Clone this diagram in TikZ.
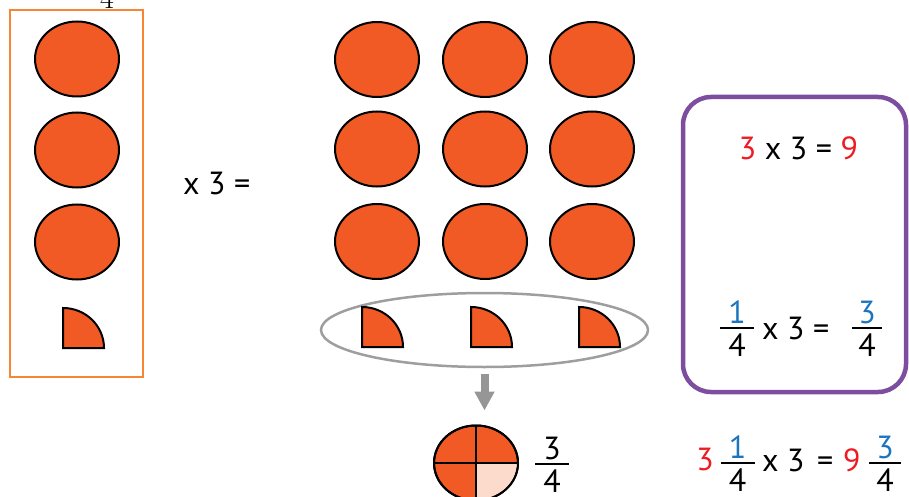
\documentclass[tikz,border=0pt]{standalone}
\usepackage{fontspec}
\newfontfamily\eqfont{PT Sans}
\usetikzlibrary{shapes.geometric,arrows.meta}
\definecolor{piefill}{RGB}{241,90,36}
\definecolor{pink}{RGB}{252,218,204}
\definecolor{frameorange}{RGB}{246,134,52}
\definecolor{boxpurple}{RGB}{125,78,159}
\definecolor{myred}{RGB}{237,28,36}
\definecolor{myblue}{RGB}{28,117,188}
\definecolor{ringgray}{RGB}{158,158,158}
\definecolor{arrowgray}{RGB}{150,150,150}
\tikzset{
  whole/.style={ellipse, draw=black, fill=piefill, line width=2pt, minimum width=84pt, minimum height=75pt, inner sep=0pt},
  part/.style={draw=black, fill=piefill, line width=2pt, line join=miter},
  txt/.style={inner sep=0pt, font=\eqfont\fontsize{32}{38}\selectfont, text height=22.5pt, text depth=0pt},
  fracbar/.style={line width=2.4pt},
  pics/frac/.style n args={3}{code={
    \node[txt] (-n) at (0,-16) {#1};
    \node[txt] (-d) at (0,17.5) {#2};
    \draw[fracbar] (-#3,0) -- (#3,0);
  }},
  garrow/.style={draw=arrowgray, line width=8pt, -{Triangle[width=19pt,length=19pt]}}
}
\newcommand\qtr[1]{\filldraw[part] (#1) ++(0,-40) -- (#1) -- ++(41,0) arc[start angle=0,end angle=-90,x radius=41,y radius=40] -- cycle;}
\begin{document}
\begin{tikzpicture}[x=1pt,y=-1pt]
\useasboundingbox (0,0) rectangle (909,497);
% cut-off top label
\node[inner sep=0pt, anchor=base, font=\fontsize{30}{34}\selectfont] (top4) at (107,9) {4};
% left frame
\node[draw=frameorange, line width=2pt, minimum width=132.5pt, minimum height=367.5pt, inner sep=0pt] (frame) at (76.5,193.5) {};
\node[whole] (l1) at (77,59) {};
\node[whole] (l2) at (77,150) {};
\node[whole] (l3) at (77,242) {};
\coordinate (lq) at (63,348);
\qtr{lq}
% times 3
\node[txt, anchor=west] (times) at (183,183) {x 3 =};
% grid
\foreach \c/\x in {a/377,b/485,c/592}{
  \foreach \r/\y in {1/59.5,2/149,3/241.5}{
    \node[whole] (g\c\r) at (\x,\y) {};
  }
}
% ring with quarters
\node[ellipse, draw=ringgray, line width=2.5pt, minimum width=327pt, minimum height=74pt, inner sep=0pt] (ring) at (484.5,330) {};
\coordinate (q1) at (362,347);
\coordinate (q2) at (471,347);
\coordinate (q3) at (579,347);
\qtr{q1}\qtr{q2}\qtr{q3}
% bottom pie
\node[whole] (pie) at (476,463) {};
\fill[pink] (pie.center) -- ++(41,0) arc[start angle=0,end angle=90,x radius=41,y radius=36.5] -- cycle;
\draw[line width=2pt] (pie.north) -- (pie.south);
\draw[line width=2pt] (pie.west) -- (pie.east);
\node[ellipse, draw=black, line width=2pt, minimum width=84pt, minimum height=75pt, inner sep=0pt] (pieedge) at (pie.center) {};
\draw[garrow, shorten <=6pt, shorten >=14pt] (ring.south) -- (ring.south |- pie.north);
\pic (pf) at (552,464) {frac={3}{4}{17}};
% purple box
\node[draw=boxpurple, line width=4.5pt, rounded corners=28pt, minimum width=223pt, minimum height=295pt, inner sep=0pt] (box) at (794.5,244.5) {};
\node[txt] (eq1) at (798.5,148) {{\color{myred}3} x 3 = {\color{myred}9}};
\pic (f1) at (737,328) {frac={\color{myblue}1}{4}{17}};
\node[txt, anchor=west] (eq2) at (762,328) {x 3 =};
\pic (f2) at (867,328) {frac={\color{myblue}3}{4}{15}};
% bottom equation
\node[txt, text=myred] (b3) at (705,459) {3};
\pic (f3) at (737.5,463) {frac={\color{myblue}1}{4}{17}};
\node[txt, anchor=west] (bx) at (762,460) {x 3};
\node[txt, anchor=west] (beq) at (817,460) {=};
\node[txt, anchor=west, text=myred] (b9) at (843,460) {9};
\pic (f4) at (885,463) {frac={\color{myblue}3}{4}{16}};
\end{tikzpicture}
\end{document}
